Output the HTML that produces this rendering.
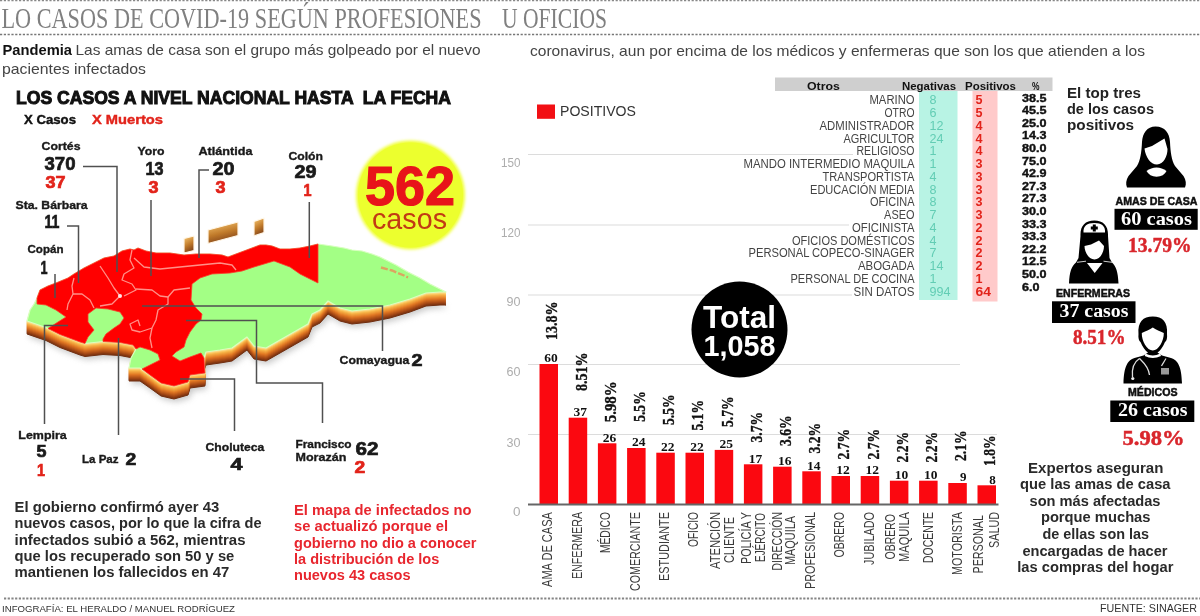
<!DOCTYPE html>
<html lang="es"><head><meta charset="utf-8"><title>Casos de COVID-19 según profesiones u oficios</title>
<style>
html,body{margin:0;padding:0;background:#fff;}
body{width:1200px;height:616px;overflow:hidden;font-family:"Liberation Sans",sans-serif;}
svg{display:block;}
</style></head><body>
<svg width="1200" height="616" viewBox="0 0 1200 616">
<defs>
<filter id="blur4" x="-10%" y="-10%" width="120%" height="130%"><feGaussianBlur stdDeviation="3"/></filter>
<filter id="blur2" x="-10%" y="-10%" width="120%" height="120%"><feGaussianBlur stdDeviation="1.5"/></filter>
<linearGradient id="isl" x1="0" y1="0" x2="0.35" y2="1"><stop offset="0" stop-color="#ffeec2"/><stop offset="0.22" stop-color="#e6ae5a"/><stop offset="0.6" stop-color="#c07a2a"/><stop offset="1" stop-color="#85461a"/></linearGradient>
</defs>
<rect width="1200" height="616" fill="#fff"/>
<text x="1.5" y="27.5" font-family='"Liberation Serif",serif' font-size="28.5" fill="#808080" textLength="480" lengthAdjust="spacingAndGlyphs">LO CASOS DE COVID-19 SEGÚN PROFESIONES</text>
<text x="502" y="27.5" font-family='"Liberation Serif",serif' font-size="28.5" fill="#808080" textLength="105" lengthAdjust="spacingAndGlyphs">U OFICIOS</text>
<line x1="0" y1="34.5" x2="1200" y2="34.5" stroke="#777" stroke-width="1.6" stroke-dasharray="2.2 1.6"/>
<line x1="0" y1="0.6" x2="1200" y2="0.6" stroke="#888" stroke-width="1.4" stroke-dasharray="2.2 1.6"/>
<line x1="4" y1="598.6" x2="1200" y2="598.6" stroke="#858585" stroke-width="2" stroke-dasharray="2.2 1.5"/>
<text x="2.5" y="55.3" font-family='"Liberation Sans",sans-serif' font-size="15" font-weight="bold" fill="#111" textLength="69.5" lengthAdjust="spacingAndGlyphs">Pandemia</text>
<text x="75.5" y="55.3" font-family='"Liberation Sans",sans-serif' font-size="15" fill="#444" textLength="405" lengthAdjust="spacingAndGlyphs">Las amas de casa son el grupo más golpeado por el nuevo</text>
<text x="2" y="73.8" font-family='"Liberation Sans",sans-serif' font-size="15" fill="#444" textLength="144" lengthAdjust="spacingAndGlyphs">pacientes infectados</text>
<text x="530" y="55.5" font-family='"Liberation Sans",sans-serif' font-size="15" fill="#444" textLength="615" lengthAdjust="spacingAndGlyphs">coronavirus, aun por encima de los médicos y enfermeras que son los que atienden a los</text>
<text x="16" y="104" font-family='"Liberation Sans",sans-serif' font-size="18" font-weight="bold" fill="#111" textLength="435" lengthAdjust="spacingAndGlyphs" stroke="#111" stroke-width="1" xml:space="preserve">LOS CASOS A NIVEL NACIONAL HASTA  LA FECHA</text>
<text x="24" y="124" font-family='"Liberation Sans",sans-serif' font-size="12.5" font-weight="bold" fill="#111" textLength="52" lengthAdjust="spacingAndGlyphs" stroke="#111" stroke-width="0.4">X Casos</text>
<text x="92" y="124" font-family='"Liberation Sans",sans-serif' font-size="12.5" font-weight="bold" fill="#e2231a" textLength="71" lengthAdjust="spacingAndGlyphs" stroke="#e2231a" stroke-width="0.4">X Muertos</text>
<text x="2" y="611.5" font-family='"Liberation Sans",sans-serif' font-size="9.5" fill="#333" textLength="233" lengthAdjust="spacingAndGlyphs">INFOGRAFÍA: EL HERALDO / MANUEL RODRÍGUEZ</text>
<text x="1100" y="611.5" font-family='"Liberation Sans",sans-serif' font-size="11" fill="#333" textLength="97" lengthAdjust="spacingAndGlyphs">FUENTE: SINAGER</text>
<line x1="528" y1="154.5" x2="853" y2="154.5" stroke="#dcdcdc" stroke-width="1.2"/>
<line x1="528" y1="225" x2="849" y2="225" stroke="#dcdcdc" stroke-width="1.2"/>
<line x1="528" y1="295" x2="852" y2="295" stroke="#dcdcdc" stroke-width="1.2"/>
<line x1="528" y1="364.5" x2="960" y2="364.5" stroke="#dcdcdc" stroke-width="1.2"/>
<line x1="528" y1="434.5" x2="997" y2="434.5" stroke="#dcdcdc" stroke-width="1.2"/>
<text x="520.5" y="167.0" font-family='"Liberation Sans",sans-serif' font-size="13" fill="#adadad" textLength="19.5" lengthAdjust="spacingAndGlyphs" text-anchor="end">150</text>
<text x="520.5" y="237.0" font-family='"Liberation Sans",sans-serif' font-size="13" fill="#adadad" textLength="19.5" lengthAdjust="spacingAndGlyphs" text-anchor="end">120</text>
<text x="520.5" y="306.0" font-family='"Liberation Sans",sans-serif' font-size="13" fill="#adadad" textLength="14" lengthAdjust="spacingAndGlyphs" text-anchor="end">90</text>
<text x="520.5" y="376.0" font-family='"Liberation Sans",sans-serif' font-size="13" fill="#adadad" textLength="14" lengthAdjust="spacingAndGlyphs" text-anchor="end">60</text>
<text x="520.5" y="446.5" font-family='"Liberation Sans",sans-serif' font-size="13" fill="#adadad" textLength="14" lengthAdjust="spacingAndGlyphs" text-anchor="end">30</text>
<text x="520.5" y="515.5" font-family='"Liberation Sans",sans-serif' font-size="13" fill="#adadad" textLength="7.5" lengthAdjust="spacingAndGlyphs" text-anchor="end">0</text>
<rect x="537" y="104.5" width="18" height="14.3" fill="#f20f14"/>
<text x="560" y="116.3" font-family='"Liberation Sans",sans-serif' font-size="15" fill="#333" textLength="76" lengthAdjust="spacingAndGlyphs">POSITIVOS</text>
<rect x="539.5" y="364.0" width="18.5" height="140.0" fill="#fb0810"/>
<text x="557.8" y="362.2" font-family='"Liberation Serif",serif' font-size="13" font-weight="bold" fill="#111" textLength="13.5" lengthAdjust="spacingAndGlyphs" text-anchor="end">60</text>
<text transform="translate(557.4,340) rotate(-90)" font-family='"Liberation Serif",serif' font-size="16.5" font-weight="bold" fill="#111" stroke="#111" stroke-width="0.35" textLength="38.5" lengthAdjust="spacingAndGlyphs">13.8%</text>
<rect x="568.7" y="417.7" width="18.5" height="86.3" fill="#fb0810"/>
<text x="587.0" y="415.9" font-family='"Liberation Serif",serif' font-size="13" font-weight="bold" fill="#111" textLength="13.5" lengthAdjust="spacingAndGlyphs" text-anchor="end">37</text>
<text transform="translate(586.6,391) rotate(-90)" font-family='"Liberation Serif",serif' font-size="16.5" font-weight="bold" fill="#111" stroke="#111" stroke-width="0.35" textLength="38.5" lengthAdjust="spacingAndGlyphs">8.51%</text>
<rect x="597.9" y="443.3" width="18.5" height="60.7" fill="#fb0810"/>
<text x="616.2" y="441.5" font-family='"Liberation Serif",serif' font-size="13" font-weight="bold" fill="#111" textLength="13.5" lengthAdjust="spacingAndGlyphs" text-anchor="end">26</text>
<text transform="translate(615.8,422.3) rotate(-90)" font-family='"Liberation Serif",serif' font-size="16.5" font-weight="bold" fill="#111" stroke="#111" stroke-width="0.35" textLength="41" lengthAdjust="spacingAndGlyphs">5.98%</text>
<rect x="627.1" y="448.0" width="18.5" height="56.0" fill="#fb0810"/>
<text x="645.4" y="446.2" font-family='"Liberation Serif",serif' font-size="13" font-weight="bold" fill="#111" textLength="13.5" lengthAdjust="spacingAndGlyphs" text-anchor="end">24</text>
<text transform="translate(645.0,421.8) rotate(-90)" font-family='"Liberation Serif",serif' font-size="16.5" font-weight="bold" fill="#111" stroke="#111" stroke-width="0.35" textLength="30.5" lengthAdjust="spacingAndGlyphs">5.5%</text>
<rect x="656.3" y="452.7" width="18.5" height="51.3" fill="#fb0810"/>
<text x="674.6" y="450.9" font-family='"Liberation Serif",serif' font-size="13" font-weight="bold" fill="#111" textLength="13.5" lengthAdjust="spacingAndGlyphs" text-anchor="end">22</text>
<text transform="translate(674.1,425) rotate(-90)" font-family='"Liberation Serif",serif' font-size="16.5" font-weight="bold" fill="#111" stroke="#111" stroke-width="0.35" textLength="30.5" lengthAdjust="spacingAndGlyphs">5.5%</text>
<rect x="685.5" y="452.7" width="18.5" height="51.3" fill="#fb0810"/>
<text x="703.8" y="450.9" font-family='"Liberation Serif",serif' font-size="13" font-weight="bold" fill="#111" textLength="13.5" lengthAdjust="spacingAndGlyphs" text-anchor="end">22</text>
<text transform="translate(703.4,430.5) rotate(-90)" font-family='"Liberation Serif",serif' font-size="16.5" font-weight="bold" fill="#111" stroke="#111" stroke-width="0.35" textLength="30.5" lengthAdjust="spacingAndGlyphs">5.1%</text>
<rect x="714.7" y="449.9" width="18.5" height="54.1" fill="#fb0810"/>
<text x="733.0" y="448.1" font-family='"Liberation Serif",serif' font-size="13" font-weight="bold" fill="#111" textLength="13.5" lengthAdjust="spacingAndGlyphs" text-anchor="end">25</text>
<text transform="translate(732.6,427) rotate(-90)" font-family='"Liberation Serif",serif' font-size="16.5" font-weight="bold" fill="#111" stroke="#111" stroke-width="0.35" textLength="30.5" lengthAdjust="spacingAndGlyphs">5.7%</text>
<rect x="743.9" y="464.3" width="18.5" height="39.7" fill="#fb0810"/>
<text x="762.2" y="462.5" font-family='"Liberation Serif",serif' font-size="13" font-weight="bold" fill="#111" textLength="13.5" lengthAdjust="spacingAndGlyphs" text-anchor="end">17</text>
<text transform="translate(761.8,442.5) rotate(-90)" font-family='"Liberation Serif",serif' font-size="16.5" font-weight="bold" fill="#111" stroke="#111" stroke-width="0.35" textLength="30.5" lengthAdjust="spacingAndGlyphs">3.7%</text>
<rect x="773.1" y="466.7" width="18.5" height="37.3" fill="#fb0810"/>
<text x="791.4" y="464.9" font-family='"Liberation Serif",serif' font-size="13" font-weight="bold" fill="#111" textLength="13.5" lengthAdjust="spacingAndGlyphs" text-anchor="end">16</text>
<text transform="translate(791.0,446) rotate(-90)" font-family='"Liberation Serif",serif' font-size="16.5" font-weight="bold" fill="#111" stroke="#111" stroke-width="0.35" textLength="30.5" lengthAdjust="spacingAndGlyphs">3.6%</text>
<rect x="802.3" y="471.3" width="18.5" height="32.7" fill="#fb0810"/>
<text x="820.6" y="469.5" font-family='"Liberation Serif",serif' font-size="13" font-weight="bold" fill="#111" textLength="13.5" lengthAdjust="spacingAndGlyphs" text-anchor="end">14</text>
<text transform="translate(820.1,453.5) rotate(-90)" font-family='"Liberation Serif",serif' font-size="16.5" font-weight="bold" fill="#111" stroke="#111" stroke-width="0.35" textLength="30.5" lengthAdjust="spacingAndGlyphs">3.2%</text>
<rect x="831.5" y="476.0" width="18.5" height="28.0" fill="#fb0810"/>
<text x="849.8" y="474.2" font-family='"Liberation Serif",serif' font-size="13" font-weight="bold" fill="#111" textLength="13.5" lengthAdjust="spacingAndGlyphs" text-anchor="end">12</text>
<text transform="translate(849.4,459.5) rotate(-90)" font-family='"Liberation Serif",serif' font-size="16.5" font-weight="bold" fill="#111" stroke="#111" stroke-width="0.35" textLength="30.5" lengthAdjust="spacingAndGlyphs">2.7%</text>
<rect x="860.7" y="476.0" width="18.5" height="28.0" fill="#fb0810"/>
<text x="879.0" y="474.2" font-family='"Liberation Serif",serif' font-size="13" font-weight="bold" fill="#111" textLength="13.5" lengthAdjust="spacingAndGlyphs" text-anchor="end">12</text>
<text transform="translate(878.6,459.5) rotate(-90)" font-family='"Liberation Serif",serif' font-size="16.5" font-weight="bold" fill="#111" stroke="#111" stroke-width="0.35" textLength="30.5" lengthAdjust="spacingAndGlyphs">2.7%</text>
<rect x="889.9" y="480.7" width="18.5" height="23.3" fill="#fb0810"/>
<text x="908.2" y="478.9" font-family='"Liberation Serif",serif' font-size="13" font-weight="bold" fill="#111" textLength="13.5" lengthAdjust="spacingAndGlyphs" text-anchor="end">10</text>
<text transform="translate(907.8,462.5) rotate(-90)" font-family='"Liberation Serif",serif' font-size="16.5" font-weight="bold" fill="#111" stroke="#111" stroke-width="0.35" textLength="30.5" lengthAdjust="spacingAndGlyphs">2.2%</text>
<rect x="919.1" y="480.7" width="18.5" height="23.3" fill="#fb0810"/>
<text x="937.4" y="478.9" font-family='"Liberation Serif",serif' font-size="13" font-weight="bold" fill="#111" textLength="13.5" lengthAdjust="spacingAndGlyphs" text-anchor="end">10</text>
<text transform="translate(936.9,462.5) rotate(-90)" font-family='"Liberation Serif",serif' font-size="16.5" font-weight="bold" fill="#111" stroke="#111" stroke-width="0.35" textLength="30.5" lengthAdjust="spacingAndGlyphs">2.2%</text>
<rect x="948.3" y="483.0" width="18.5" height="21.0" fill="#fb0810"/>
<text x="966.6" y="481.2" font-family='"Liberation Serif",serif' font-size="13" font-weight="bold" fill="#111" textLength="6.5" lengthAdjust="spacingAndGlyphs" text-anchor="end">9</text>
<text transform="translate(966.1,461) rotate(-90)" font-family='"Liberation Serif",serif' font-size="16.5" font-weight="bold" fill="#111" stroke="#111" stroke-width="0.35" textLength="30.5" lengthAdjust="spacingAndGlyphs">2.1%</text>
<rect x="977.5" y="485.3" width="18.5" height="18.7" fill="#fb0810"/>
<text x="995.8" y="483.5" font-family='"Liberation Serif",serif' font-size="13" font-weight="bold" fill="#111" textLength="6.5" lengthAdjust="spacingAndGlyphs" text-anchor="end">8</text>
<text transform="translate(995.4,466) rotate(-90)" font-family='"Liberation Serif",serif' font-size="16.5" font-weight="bold" fill="#111" stroke="#111" stroke-width="0.35" textLength="30.5" lengthAdjust="spacingAndGlyphs">1.8%</text>
<line x1="528" y1="504.5" x2="998.5" y2="504.5" stroke="#666" stroke-width="2"/>
<text transform="translate(552.3,512) rotate(-90)" text-anchor="end" font-family='"Liberation Sans",sans-serif' font-size="14" fill="#3a3a3a" textLength="75" lengthAdjust="spacingAndGlyphs">AMA DE CASA</text>
<text transform="translate(582,512) rotate(-90)" text-anchor="end" font-family='"Liberation Sans",sans-serif' font-size="14" fill="#3a3a3a" textLength="67" lengthAdjust="spacingAndGlyphs">ENFERMERA</text>
<text transform="translate(610,512) rotate(-90)" text-anchor="end" font-family='"Liberation Sans",sans-serif' font-size="14" fill="#3a3a3a" textLength="41" lengthAdjust="spacingAndGlyphs">MÉDICO</text>
<text transform="translate(640,512) rotate(-90)" text-anchor="end" font-family='"Liberation Sans",sans-serif' font-size="14" fill="#3a3a3a" textLength="79" lengthAdjust="spacingAndGlyphs">COMERCIANTE</text>
<text transform="translate(669,512) rotate(-90)" text-anchor="end" font-family='"Liberation Sans",sans-serif' font-size="14" fill="#3a3a3a" textLength="69" lengthAdjust="spacingAndGlyphs">ESTUDIANTE</text>
<text transform="translate(698,512) rotate(-90)" text-anchor="end" font-family='"Liberation Sans",sans-serif' font-size="14" fill="#3a3a3a" textLength="35" lengthAdjust="spacingAndGlyphs">OFICIO</text>
<text transform="translate(720,512) rotate(-90)" text-anchor="end" font-family='"Liberation Sans",sans-serif' font-size="14" fill="#3a3a3a" textLength="57" lengthAdjust="spacingAndGlyphs">ATENCIÓN</text>
<text transform="translate(734,517) rotate(-90)" text-anchor="end" font-family='"Liberation Sans",sans-serif' font-size="14" fill="#3a3a3a" textLength="46" lengthAdjust="spacingAndGlyphs">CLIENTE</text>
<text transform="translate(751,512) rotate(-90)" text-anchor="end" font-family='"Liberation Sans",sans-serif' font-size="14" fill="#3a3a3a" textLength="52" lengthAdjust="spacingAndGlyphs">POLICÍA Y</text>
<text transform="translate(765,513) rotate(-90)" text-anchor="end" font-family='"Liberation Sans",sans-serif' font-size="14" fill="#3a3a3a" textLength="49" lengthAdjust="spacingAndGlyphs">EJÉRCITO</text>
<text transform="translate(781.7,512) rotate(-90)" text-anchor="end" font-family='"Liberation Sans",sans-serif' font-size="14" fill="#3a3a3a" textLength="58.5" lengthAdjust="spacingAndGlyphs">DIRECCIÓN</text>
<text transform="translate(795,516) rotate(-90)" text-anchor="end" font-family='"Liberation Sans",sans-serif' font-size="14" fill="#3a3a3a" textLength="49" lengthAdjust="spacingAndGlyphs">MAQUILA</text>
<text transform="translate(815,512) rotate(-90)" text-anchor="end" font-family='"Liberation Sans",sans-serif' font-size="14" fill="#3a3a3a" textLength="77" lengthAdjust="spacingAndGlyphs">PROFESIONAL</text>
<text transform="translate(844,512) rotate(-90)" text-anchor="end" font-family='"Liberation Sans",sans-serif' font-size="14" fill="#3a3a3a" textLength="45.5" lengthAdjust="spacingAndGlyphs">OBRERO</text>
<text transform="translate(874,512) rotate(-90)" text-anchor="end" font-family='"Liberation Sans",sans-serif' font-size="14" fill="#3a3a3a" textLength="53" lengthAdjust="spacingAndGlyphs">JUBILADO</text>
<text transform="translate(895.4,514) rotate(-90)" text-anchor="end" font-family='"Liberation Sans",sans-serif' font-size="14" fill="#3a3a3a" textLength="45.5" lengthAdjust="spacingAndGlyphs">OBRERO</text>
<text transform="translate(909,512) rotate(-90)" text-anchor="end" font-family='"Liberation Sans",sans-serif' font-size="14" fill="#3a3a3a" textLength="50" lengthAdjust="spacingAndGlyphs">MAQUILA</text>
<text transform="translate(933,512) rotate(-90)" text-anchor="end" font-family='"Liberation Sans",sans-serif' font-size="14" fill="#3a3a3a" textLength="51" lengthAdjust="spacingAndGlyphs">DOCENTE</text>
<text transform="translate(962,512) rotate(-90)" text-anchor="end" font-family='"Liberation Sans",sans-serif' font-size="14" fill="#3a3a3a" textLength="63" lengthAdjust="spacingAndGlyphs">MOTORISTA</text>
<text transform="translate(983,515) rotate(-90)" text-anchor="end" font-family='"Liberation Sans",sans-serif' font-size="14" fill="#3a3a3a" textLength="58.5" lengthAdjust="spacingAndGlyphs">PERSONAL</text>
<text transform="translate(999,512) rotate(-90)" text-anchor="end" font-family='"Liberation Sans",sans-serif' font-size="14" fill="#3a3a3a" textLength="36" lengthAdjust="spacingAndGlyphs">SALUD</text>
<circle cx="739.5" cy="329.5" r="48" fill="#000"/>
<text x="739.5" y="327.5" font-family='"Liberation Sans",sans-serif' font-size="31" font-weight="bold" fill="#fff" textLength="73" lengthAdjust="spacingAndGlyphs" text-anchor="middle">Total</text>
<text x="739.5" y="356" font-family='"Liberation Sans",sans-serif' font-size="29" font-weight="bold" fill="#fff" textLength="72" lengthAdjust="spacingAndGlyphs" text-anchor="middle">1,058</text>
<rect x="775" y="77.5" width="277.5" height="13.5" fill="#cfcfcf"/>
<rect x="919" y="91" width="38.5" height="209" fill="#b8f3e4"/>
<rect x="972.5" y="91" width="25" height="210.5" fill="#ffcaca"/>
<text x="807" y="89.5" font-family='"Liberation Sans",sans-serif' font-size="10.5" font-weight="bold" fill="#111" textLength="33" lengthAdjust="spacingAndGlyphs">Otros</text>
<text x="902" y="89.5" font-family='"Liberation Sans",sans-serif' font-size="10.5" font-weight="bold" fill="#111" textLength="54" lengthAdjust="spacingAndGlyphs">Negativas</text>
<text x="965" y="89.5" font-family='"Liberation Sans",sans-serif' font-size="10.5" font-weight="bold" fill="#111" textLength="51" lengthAdjust="spacingAndGlyphs">Positivos</text>
<text x="1032" y="89.5" font-family='"Liberation Sans",sans-serif' font-size="10" font-weight="bold" fill="#111" textLength="7.5" lengthAdjust="spacingAndGlyphs">%</text>
<text x="914.5" y="104.4" font-family='"Liberation Sans",sans-serif' font-size="12" fill="#444" textLength="45" lengthAdjust="spacingAndGlyphs" text-anchor="end">MARINO</text>
<text x="929.5" y="104.4" font-family='"Liberation Sans",sans-serif' font-size="12" fill="#62cdb4" textLength="7" lengthAdjust="spacingAndGlyphs">8</text>
<text x="975.5" y="104.4" font-family='"Liberation Sans",sans-serif' font-size="12" font-weight="bold" fill="#e2231a" textLength="7" lengthAdjust="spacingAndGlyphs">5</text>
<text x="1022" y="101.5" font-family='"Liberation Sans",sans-serif' font-size="11" font-weight="bold" fill="#111" textLength="24.5" lengthAdjust="spacingAndGlyphs" stroke="#111" stroke-width="0.4">38.5</text>
<text x="914.5" y="117.2" font-family='"Liberation Sans",sans-serif' font-size="12" fill="#444" textLength="30" lengthAdjust="spacingAndGlyphs" text-anchor="end">OTRO</text>
<text x="929.5" y="117.2" font-family='"Liberation Sans",sans-serif' font-size="12" fill="#62cdb4" textLength="7" lengthAdjust="spacingAndGlyphs">6</text>
<text x="975.5" y="117.2" font-family='"Liberation Sans",sans-serif' font-size="12" font-weight="bold" fill="#e2231a" textLength="7" lengthAdjust="spacingAndGlyphs">5</text>
<text x="1022" y="114.1" font-family='"Liberation Sans",sans-serif' font-size="11" font-weight="bold" fill="#111" textLength="24.5" lengthAdjust="spacingAndGlyphs" stroke="#111" stroke-width="0.4">45.5</text>
<text x="914.5" y="129.9" font-family='"Liberation Sans",sans-serif' font-size="12" fill="#444" textLength="95" lengthAdjust="spacingAndGlyphs" text-anchor="end">ADMINISTRADOR</text>
<text x="929.5" y="129.9" font-family='"Liberation Sans",sans-serif' font-size="12" fill="#62cdb4" textLength="14" lengthAdjust="spacingAndGlyphs">12</text>
<text x="975.5" y="129.9" font-family='"Liberation Sans",sans-serif' font-size="12" font-weight="bold" fill="#e2231a" textLength="7" lengthAdjust="spacingAndGlyphs">4</text>
<text x="1022" y="126.7" font-family='"Liberation Sans",sans-serif' font-size="11" font-weight="bold" fill="#111" textLength="24.5" lengthAdjust="spacingAndGlyphs" stroke="#111" stroke-width="0.4">25.0</text>
<text x="914.5" y="142.7" font-family='"Liberation Sans",sans-serif' font-size="12" fill="#444" textLength="71" lengthAdjust="spacingAndGlyphs" text-anchor="end">AGRICULTOR</text>
<text x="929.5" y="142.7" font-family='"Liberation Sans",sans-serif' font-size="12" fill="#62cdb4" textLength="14" lengthAdjust="spacingAndGlyphs">24</text>
<text x="975.5" y="142.7" font-family='"Liberation Sans",sans-serif' font-size="12" font-weight="bold" fill="#e2231a" textLength="7" lengthAdjust="spacingAndGlyphs">4</text>
<text x="1022" y="139.3" font-family='"Liberation Sans",sans-serif' font-size="11" font-weight="bold" fill="#111" textLength="24.5" lengthAdjust="spacingAndGlyphs" stroke="#111" stroke-width="0.4">14.3</text>
<text x="914.5" y="155.4" font-family='"Liberation Sans",sans-serif' font-size="12" fill="#444" textLength="58" lengthAdjust="spacingAndGlyphs" text-anchor="end">RELIGIOSO</text>
<text x="929.5" y="155.4" font-family='"Liberation Sans",sans-serif' font-size="12" fill="#62cdb4" textLength="7" lengthAdjust="spacingAndGlyphs">1</text>
<text x="975.5" y="155.4" font-family='"Liberation Sans",sans-serif' font-size="12" font-weight="bold" fill="#e2231a" textLength="7" lengthAdjust="spacingAndGlyphs">4</text>
<text x="1022" y="151.9" font-family='"Liberation Sans",sans-serif' font-size="11" font-weight="bold" fill="#111" textLength="24.5" lengthAdjust="spacingAndGlyphs" stroke="#111" stroke-width="0.4">80.0</text>
<text x="914.5" y="168.2" font-family='"Liberation Sans",sans-serif' font-size="12" fill="#444" textLength="171" lengthAdjust="spacingAndGlyphs" text-anchor="end">MANDO INTERMEDIO MAQUILA</text>
<text x="929.5" y="168.2" font-family='"Liberation Sans",sans-serif' font-size="12" fill="#62cdb4" textLength="7" lengthAdjust="spacingAndGlyphs">1</text>
<text x="975.5" y="168.2" font-family='"Liberation Sans",sans-serif' font-size="12" font-weight="bold" fill="#e2231a" textLength="7" lengthAdjust="spacingAndGlyphs">3</text>
<text x="1022" y="164.5" font-family='"Liberation Sans",sans-serif' font-size="11" font-weight="bold" fill="#111" textLength="24.5" lengthAdjust="spacingAndGlyphs" stroke="#111" stroke-width="0.4">75.0</text>
<text x="914.5" y="180.9" font-family='"Liberation Sans",sans-serif' font-size="12" fill="#444" textLength="92" lengthAdjust="spacingAndGlyphs" text-anchor="end">TRANSPORTISTA</text>
<text x="929.5" y="180.9" font-family='"Liberation Sans",sans-serif' font-size="12" fill="#62cdb4" textLength="7" lengthAdjust="spacingAndGlyphs">4</text>
<text x="975.5" y="180.9" font-family='"Liberation Sans",sans-serif' font-size="12" font-weight="bold" fill="#e2231a" textLength="7" lengthAdjust="spacingAndGlyphs">3</text>
<text x="1022" y="177.1" font-family='"Liberation Sans",sans-serif' font-size="11" font-weight="bold" fill="#111" textLength="24.5" lengthAdjust="spacingAndGlyphs" stroke="#111" stroke-width="0.4">42.9</text>
<text x="914.5" y="193.7" font-family='"Liberation Sans",sans-serif' font-size="12" fill="#444" textLength="104.5" lengthAdjust="spacingAndGlyphs" text-anchor="end">EDUCACIÓN MEDIA</text>
<text x="929.5" y="193.7" font-family='"Liberation Sans",sans-serif' font-size="12" fill="#62cdb4" textLength="7" lengthAdjust="spacingAndGlyphs">8</text>
<text x="975.5" y="193.7" font-family='"Liberation Sans",sans-serif' font-size="12" font-weight="bold" fill="#e2231a" textLength="7" lengthAdjust="spacingAndGlyphs">3</text>
<text x="1022" y="189.7" font-family='"Liberation Sans",sans-serif' font-size="11" font-weight="bold" fill="#111" textLength="24.5" lengthAdjust="spacingAndGlyphs" stroke="#111" stroke-width="0.4">27.3</text>
<text x="914.5" y="206.4" font-family='"Liberation Sans",sans-serif' font-size="12" fill="#444" textLength="44.5" lengthAdjust="spacingAndGlyphs" text-anchor="end">OFICINA</text>
<text x="929.5" y="206.4" font-family='"Liberation Sans",sans-serif' font-size="12" fill="#62cdb4" textLength="7" lengthAdjust="spacingAndGlyphs">8</text>
<text x="975.5" y="206.4" font-family='"Liberation Sans",sans-serif' font-size="12" font-weight="bold" fill="#e2231a" textLength="7" lengthAdjust="spacingAndGlyphs">3</text>
<text x="1022" y="202.3" font-family='"Liberation Sans",sans-serif' font-size="11" font-weight="bold" fill="#111" textLength="24.5" lengthAdjust="spacingAndGlyphs" stroke="#111" stroke-width="0.4">27.3</text>
<text x="914.5" y="219.2" font-family='"Liberation Sans",sans-serif' font-size="12" fill="#444" textLength="30.4" lengthAdjust="spacingAndGlyphs" text-anchor="end">ASEO</text>
<text x="929.5" y="219.2" font-family='"Liberation Sans",sans-serif' font-size="12" fill="#62cdb4" textLength="7" lengthAdjust="spacingAndGlyphs">7</text>
<text x="975.5" y="219.2" font-family='"Liberation Sans",sans-serif' font-size="12" font-weight="bold" fill="#e2231a" textLength="7" lengthAdjust="spacingAndGlyphs">3</text>
<text x="1022" y="214.9" font-family='"Liberation Sans",sans-serif' font-size="11" font-weight="bold" fill="#111" textLength="24.5" lengthAdjust="spacingAndGlyphs" stroke="#111" stroke-width="0.4">30.0</text>
<text x="914.5" y="231.9" font-family='"Liberation Sans",sans-serif' font-size="12" fill="#444" textLength="62.5" lengthAdjust="spacingAndGlyphs" text-anchor="end">OFICINISTA</text>
<text x="929.5" y="231.9" font-family='"Liberation Sans",sans-serif' font-size="12" fill="#62cdb4" textLength="7" lengthAdjust="spacingAndGlyphs">4</text>
<text x="975.5" y="231.9" font-family='"Liberation Sans",sans-serif' font-size="12" font-weight="bold" fill="#e2231a" textLength="7" lengthAdjust="spacingAndGlyphs">2</text>
<text x="1022" y="227.5" font-family='"Liberation Sans",sans-serif' font-size="11" font-weight="bold" fill="#111" textLength="24.5" lengthAdjust="spacingAndGlyphs" stroke="#111" stroke-width="0.4">33.3</text>
<text x="914.5" y="244.7" font-family='"Liberation Sans",sans-serif' font-size="12" fill="#444" textLength="122.5" lengthAdjust="spacingAndGlyphs" text-anchor="end">OFICIOS DOMÉSTICOS</text>
<text x="929.5" y="244.7" font-family='"Liberation Sans",sans-serif' font-size="12" fill="#62cdb4" textLength="7" lengthAdjust="spacingAndGlyphs">4</text>
<text x="975.5" y="244.7" font-family='"Liberation Sans",sans-serif' font-size="12" font-weight="bold" fill="#e2231a" textLength="7" lengthAdjust="spacingAndGlyphs">2</text>
<text x="1022" y="240.1" font-family='"Liberation Sans",sans-serif' font-size="11" font-weight="bold" fill="#111" textLength="24.5" lengthAdjust="spacingAndGlyphs" stroke="#111" stroke-width="0.4">33.3</text>
<text x="914.5" y="257.4" font-family='"Liberation Sans",sans-serif' font-size="12" fill="#444" textLength="166" lengthAdjust="spacingAndGlyphs" text-anchor="end">PERSONAL COPECO-SINAGER</text>
<text x="929.5" y="257.4" font-family='"Liberation Sans",sans-serif' font-size="12" fill="#62cdb4" textLength="7" lengthAdjust="spacingAndGlyphs">7</text>
<text x="975.5" y="257.4" font-family='"Liberation Sans",sans-serif' font-size="12" font-weight="bold" fill="#e2231a" textLength="7" lengthAdjust="spacingAndGlyphs">2</text>
<text x="1022" y="252.7" font-family='"Liberation Sans",sans-serif' font-size="11" font-weight="bold" fill="#111" textLength="24.5" lengthAdjust="spacingAndGlyphs" stroke="#111" stroke-width="0.4">22.2</text>
<text x="914.5" y="270.1" font-family='"Liberation Sans",sans-serif' font-size="12" fill="#444" textLength="56.5" lengthAdjust="spacingAndGlyphs" text-anchor="end">ABOGADA</text>
<text x="929.5" y="270.1" font-family='"Liberation Sans",sans-serif' font-size="12" fill="#62cdb4" textLength="14" lengthAdjust="spacingAndGlyphs">14</text>
<text x="975.5" y="270.1" font-family='"Liberation Sans",sans-serif' font-size="12" font-weight="bold" fill="#e2231a" textLength="7" lengthAdjust="spacingAndGlyphs">2</text>
<text x="1022" y="265.3" font-family='"Liberation Sans",sans-serif' font-size="11" font-weight="bold" fill="#111" textLength="24.5" lengthAdjust="spacingAndGlyphs" stroke="#111" stroke-width="0.4">12.5</text>
<text x="914.5" y="282.9" font-family='"Liberation Sans",sans-serif' font-size="12" fill="#444" textLength="124" lengthAdjust="spacingAndGlyphs" text-anchor="end">PERSONAL DE COCINA</text>
<text x="929.5" y="282.9" font-family='"Liberation Sans",sans-serif' font-size="12" fill="#62cdb4" textLength="7" lengthAdjust="spacingAndGlyphs">1</text>
<text x="975.5" y="282.9" font-family='"Liberation Sans",sans-serif' font-size="12" font-weight="bold" fill="#e2231a" textLength="7" lengthAdjust="spacingAndGlyphs">1</text>
<text x="1022" y="277.9" font-family='"Liberation Sans",sans-serif' font-size="11" font-weight="bold" fill="#111" textLength="24.5" lengthAdjust="spacingAndGlyphs" stroke="#111" stroke-width="0.4">50.0</text>
<text x="914.5" y="295.6" font-family='"Liberation Sans",sans-serif' font-size="12" fill="#444" textLength="61" lengthAdjust="spacingAndGlyphs" text-anchor="end">SIN DATOS</text>
<text x="929.5" y="295.6" font-family='"Liberation Sans",sans-serif' font-size="12" fill="#62cdb4" textLength="21" lengthAdjust="spacingAndGlyphs">994</text>
<text x="975.5" y="295.6" font-family='"Liberation Sans",sans-serif' font-size="12" font-weight="bold" fill="#e2231a" textLength="15.5" lengthAdjust="spacingAndGlyphs">64</text>
<text x="1022" y="290.5" font-family='"Liberation Sans",sans-serif' font-size="11" font-weight="bold" fill="#111" textLength="17.5" lengthAdjust="spacingAndGlyphs" stroke="#111" stroke-width="0.4">6.0</text>
<polygon points="27,335 30,324 34,318 37,312 40,304 48,300 56,297 68,292 74,288 84,282 96,276 104,272 114,270 122,265 130,263 134,264 138,262 146,265 156,267 170,267 184,269 196,268 210,268 222,269 228,271 236,268 244,265 252,262 260,259 266,259 272,260 280,263 290,263 300,262 310,260 318,258 332,260 344,262 352,264 362,265 372,268 380,271 386,274 396,279 408,286 420,292 430,298 440,303 446,306 440,306 426,307 410,313 390,319 370,323 352,325 340,322 328,315 320,324 312,328 308,338 294,346 280,354 266,362 254,360 247,351 232,362 220,364 206,366 204,372 205,387 190,389 188,396 174,400 161,397 150,389 140,382 129,382 131,372 136,363 133,359 120,356.5 103,355.5 85,357.5 80,356 60,348.5 46,341.5" fill="#999" opacity="0.55" filter="url(#blur4)" transform="translate(2,2)"/>
<polygon points="27,334 30,323 34,317 37,311 40,303 48,299 56,296 68,291 74,287 84,281 96,275 104,271 114,269 122,264 130,262 134,263 138,261 146,264 156,266 170,266 184,268 196,267 210,267 222,268 228,270 236,267 244,264 252,261 260,258 266,258 272,259 280,262 290,262 300,261 310,259 318,257 332,259 344,261 352,263 362,264 372,267 380,270 386,273 396,278 408,285 420,291 430,297 440,302 446,305 440,305 426,306 410,312 390,318 370,322 352,324 340,321 328,314 320,323 312,327 308,337 294,345 280,353 266,361 254,359 247,350 232,361 220,363 206,365 204,371 205,386 190,388 188,395 174,399 161,396 150,388 140,381 129,381 131,371 136,362 133,358 120,355.5 103,354.5 85,356.5 80,355 60,347.5 46,340.5" fill="#702e10" stroke="#702e10" stroke-width="1" stroke-linejoin="round"/>
<polygon points="27,333 30,322 34,316 37,310 40,302 48,298 56,295 68,290 74,286 84,280 96,274 104,270 114,268 122,263 130,261 134,262 138,260 146,263 156,265 170,265 184,267 196,266 210,266 222,267 228,269 236,266 244,263 252,260 260,257 266,257 272,258 280,261 290,261 300,260 310,258 318,256 332,258 344,260 352,262 362,263 372,266 380,269 386,272 396,277 408,284 420,290 430,296 440,301 446,304 440,304 426,305 410,311 390,317 370,321 352,323 340,320 328,313 320,322 312,326 308,336 294,344 280,352 266,360 254,358 247,349 232,360 220,362 206,364 204,370 205,385 190,387 188,394 174,398 161,395 150,387 140,380 129,380 131,370 136,361 133,357 120,354.5 103,353.5 85,355.5 80,354 60,346.5 46,339.5" fill="#843812" stroke="#843812" stroke-width="1" stroke-linejoin="round"/>
<polygon points="27,332 30,321 34,315 37,309 40,301 48,297 56,294 68,289 74,285 84,279 96,273 104,269 114,267 122,262 130,260 134,261 138,259 146,262 156,264 170,264 184,266 196,265 210,265 222,266 228,268 236,265 244,262 252,259 260,256 266,256 272,257 280,260 290,260 300,259 310,257 318,255 332,257 344,259 352,261 362,262 372,265 380,268 386,271 396,276 408,283 420,289 430,295 440,300 446,303 440,303 426,304 410,310 390,316 370,320 352,322 340,319 328,312 320,321 312,325 308,335 294,343 280,351 266,359 254,357 247,348 232,359 220,361 206,363 204,369 205,384 190,386 188,393 174,397 161,394 150,386 140,379 129,379 131,369 136,360 133,356 120,353.5 103,352.5 85,354.5 80,353 60,345.5 46,338.5" fill="#984214" stroke="#984214" stroke-width="1" stroke-linejoin="round"/>
<polygon points="27,331 30,320 34,314 37,308 40,300 48,296 56,293 68,288 74,284 84,278 96,272 104,268 114,266 122,261 130,259 134,260 138,258 146,261 156,263 170,263 184,265 196,264 210,264 222,265 228,267 236,264 244,261 252,258 260,255 266,255 272,256 280,259 290,259 300,258 310,256 318,254 332,256 344,258 352,260 362,261 372,264 380,267 386,270 396,275 408,282 420,288 430,294 440,299 446,302 440,302 426,303 410,309 390,315 370,319 352,321 340,318 328,311 320,320 312,324 308,334 294,342 280,350 266,358 254,356 247,347 232,358 220,360 206,362 204,368 205,383 190,385 188,392 174,396 161,393 150,385 140,378 129,378 131,368 136,359 133,355 120,352.5 103,351.5 85,353.5 80,352 60,344.5 46,337.5" fill="#ab4c17" stroke="#ab4c17" stroke-width="1" stroke-linejoin="round"/>
<polygon points="27,330 30,319 34,313 37,307 40,299 48,295 56,292 68,287 74,283 84,277 96,271 104,267 114,265 122,260 130,258 134,259 138,257 146,260 156,262 170,262 184,264 196,263 210,263 222,264 228,266 236,263 244,260 252,257 260,254 266,254 272,255 280,258 290,258 300,257 310,255 318,253 332,255 344,257 352,259 362,260 372,263 380,266 386,269 396,274 408,281 420,287 430,293 440,298 446,301 440,301 426,302 410,308 390,314 370,318 352,320 340,317 328,310 320,319 312,323 308,333 294,341 280,349 266,357 254,355 247,346 232,357 220,359 206,361 204,367 205,382 190,384 188,391 174,395 161,392 150,384 140,377 129,377 131,367 136,358 133,354 120,351.5 103,350.5 85,352.5 80,351 60,343.5 46,336.5" fill="#ba591a" stroke="#ba591a" stroke-width="1" stroke-linejoin="round"/>
<polygon points="27,329 30,318 34,312 37,306 40,298 48,294 56,291 68,286 74,282 84,276 96,270 104,266 114,264 122,259 130,257 134,258 138,256 146,259 156,261 170,261 184,263 196,262 210,262 222,263 228,265 236,262 244,259 252,256 260,253 266,253 272,254 280,257 290,257 300,256 310,254 318,252 332,254 344,256 352,258 362,259 372,262 380,265 386,268 396,273 408,280 420,286 430,292 440,297 446,300 440,300 426,301 410,307 390,313 370,317 352,319 340,316 328,309 320,318 312,322 308,332 294,340 280,348 266,356 254,354 247,345 232,356 220,358 206,360 204,366 205,381 190,383 188,390 174,394 161,391 150,383 140,376 129,376 131,366 136,357 133,353 120,350.5 103,349.5 85,351.5 80,350 60,342.5 46,335.5" fill="#ca651e" stroke="#ca651e" stroke-width="1" stroke-linejoin="round"/>
<polygon points="27,328 30,317 34,311 37,305 40,297 48,293 56,290 68,285 74,281 84,275 96,269 104,265 114,263 122,258 130,256 134,257 138,255 146,258 156,260 170,260 184,262 196,261 210,261 222,262 228,264 236,261 244,258 252,255 260,252 266,252 272,253 280,256 290,256 300,255 310,253 318,251 332,253 344,255 352,257 362,258 372,261 380,264 386,267 396,272 408,279 420,285 430,291 440,296 446,299 440,299 426,300 410,306 390,312 370,316 352,318 340,315 328,308 320,317 312,321 308,331 294,339 280,347 266,355 254,353 247,344 232,355 220,357 206,359 204,365 205,380 190,382 188,389 174,393 161,390 150,382 140,375 129,375 131,365 136,356 133,352 120,349.5 103,348.5 85,350.5 80,349 60,341.5 46,334.5" fill="#da7121" stroke="#da7121" stroke-width="1" stroke-linejoin="round"/>
<polygon points="27,327 30,316 34,310 37,304 40,296 48,292 56,289 68,284 74,280 84,274 96,268 104,264 114,262 122,257 130,255 134,256 138,254 146,257 156,259 170,259 184,261 196,260 210,260 222,261 228,263 236,260 244,257 252,254 260,251 266,251 272,252 280,255 290,255 300,254 310,252 318,250 332,252 344,254 352,256 362,257 372,260 380,263 386,266 396,271 408,278 420,284 430,290 440,295 446,298 440,298 426,299 410,305 390,311 370,315 352,317 340,314 328,307 320,316 312,320 308,330 294,338 280,346 266,354 254,352 247,343 232,354 220,356 206,358 204,364 205,379 190,381 188,388 174,392 161,389 150,381 140,374 129,374 131,364 136,355 133,351 120,348.5 103,347.5 85,349.5 80,348 60,340.5 46,333.5" fill="#e58028" stroke="#e58028" stroke-width="1" stroke-linejoin="round"/>
<polygon points="27,326 30,315 34,309 37,303 40,295 48,291 56,288 68,283 74,279 84,273 96,267 104,263 114,261 122,256 130,254 134,255 138,253 146,256 156,258 170,258 184,260 196,259 210,259 222,260 228,262 236,259 244,256 252,253 260,250 266,250 272,251 280,254 290,254 300,253 310,251 318,249 332,251 344,253 352,255 362,256 372,259 380,262 386,265 396,270 408,277 420,283 430,289 440,294 446,297 440,297 426,298 410,304 390,310 370,314 352,316 340,313 328,306 320,315 312,319 308,329 294,337 280,345 266,353 254,351 247,342 232,353 220,355 206,357 204,363 205,378 190,380 188,387 174,391 161,388 150,380 140,373 129,373 131,363 136,354 133,350 120,347.5 103,346.5 85,348.5 80,347 60,339.5 46,332.5" fill="#eb9132" stroke="#eb9132" stroke-width="1" stroke-linejoin="round"/>
<polygon points="27,325 30,314 34,308 37,302 40,294 48,290 56,287 68,282 74,278 84,272 96,266 104,262 114,260 122,255 130,253 134,254 138,252 146,255 156,257 170,257 184,259 196,258 210,258 222,259 228,261 236,258 244,255 252,252 260,249 266,249 272,250 280,253 290,253 300,252 310,250 318,248 332,250 344,252 352,254 362,255 372,258 380,261 386,264 396,269 408,276 420,282 430,288 440,293 446,296 440,296 426,297 410,303 390,309 370,313 352,315 340,312 328,305 320,314 312,318 308,328 294,336 280,344 266,352 254,350 247,341 232,352 220,354 206,356 204,362 205,377 190,379 188,386 174,390 161,387 150,379 140,372 129,372 131,362 136,353 133,349 120,346.5 103,345.5 85,347.5 80,346 60,338.5 46,331.5" fill="#f1a13c" stroke="#f1a13c" stroke-width="1" stroke-linejoin="round"/>
<polygon points="27,324 30,313 34,307 37,301 40,293 48,289 56,286 68,281 74,277 84,271 96,265 104,261 114,259 122,254 130,252 134,253 138,251 146,254 156,256 170,256 184,258 196,257 210,257 222,258 228,260 236,257 244,254 252,251 260,248 266,248 272,249 280,252 290,252 300,251 310,249 318,247 332,249 344,251 352,253 362,254 372,257 380,260 386,263 396,268 408,275 420,281 430,287 440,292 446,295 440,295 426,296 410,302 390,308 370,312 352,314 340,311 328,304 320,313 312,317 308,327 294,335 280,343 266,351 254,349 247,340 232,351 220,353 206,355 204,361 205,376 190,378 188,385 174,389 161,386 150,378 140,371 129,371 131,361 136,352 133,348 120,345.5 103,344.5 85,346.5 80,345 60,337.5 46,330.5" fill="#f7b246" stroke="#f7b246" stroke-width="1" stroke-linejoin="round"/>
<polygon points="27,323 30,312 34,306 37,300 40,292 48,288 56,285 68,280 74,276 84,270 96,264 104,260 114,258 122,253 130,251 134,252 138,250 146,253 156,255 170,255 184,257 196,256 210,256 222,257 228,259 236,256 244,253 252,250 260,247 266,247 272,248 280,251 290,251 300,250 310,248 318,246 332,248 344,250 352,252 362,253 372,256 380,259 386,262 396,267 408,274 420,280 430,286 440,291 446,294 440,294 426,295 410,301 390,307 370,311 352,313 340,310 328,303 320,312 312,316 308,326 294,334 280,342 266,350 254,348 247,339 232,350 220,352 206,354 204,360 205,375 190,377 188,384 174,388 161,385 150,377 140,370 129,370 131,360 136,351 133,347 120,344.5 103,343.5 85,345.5 80,344 60,336.5 46,329.5" fill="#fbc55f" stroke="#fbc55f" stroke-width="1" stroke-linejoin="round"/>
<polygon points="27,322 30,311 34,305 37,299 40,291 48,287 56,284 68,279 74,275 84,269 96,263 104,259 114,257 122,252 130,250 134,251 138,249 146,252 156,254 170,254 184,256 196,255 210,255 222,256 228,258 236,255 244,252 252,249 260,246 266,246 272,247 280,250 290,250 300,249 310,247 318,245 332,247 344,249 352,251 362,252 372,255 380,258 386,261 396,266 408,273 420,279 430,285 440,290 446,293 440,293 426,294 410,300 390,306 370,310 352,312 340,309 328,302 320,311 312,315 308,325 294,333 280,341 266,349 254,347 247,338 232,349 220,351 206,353 204,359 205,374 190,376 188,383 174,387 161,384 150,376 140,369 129,369 131,359 136,350 133,346 120,343.5 103,342.5 85,344.5 80,343 60,335.5 46,328.5" fill="#fdd982" stroke="#fdd982" stroke-width="1" stroke-linejoin="round"/>
<polygon points="27,321 30,310 34,304 37,298 40,290 48,286 56,283 68,278 74,274 84,268 96,262 104,258 114,256 122,251 130,249 134,250 138,248 146,251 156,253 170,253 184,255 196,254 210,254 222,255 228,257 236,254 244,251 252,248 260,245 266,245 272,246 280,249 290,249 300,248 310,246 318,244 332,246 344,248 352,250 362,251 372,254 380,257 386,260 396,265 408,272 420,278 430,284 440,289 446,292 440,292 426,293 410,299 390,305 370,309 352,311 340,308 328,301 320,310 312,314 308,324 294,332 280,340 266,348 254,346 247,337 232,348 220,350 206,352 204,358 205,373 190,375 188,382 174,386 161,383 150,375 140,368 129,368 131,358 136,349 133,345 120,342.5 103,341.5 85,343.5 80,342 60,334.5 46,327.5" fill="#a3ff85" stroke="#d8ffc0" stroke-width="1.2" stroke-linejoin="round"/>
<polygon points="37,298 40,290 48,286 56,283 68,278 74,274 84,268 96,262 104,258 114,256 122,251 130,249 134,250 138,248 146,251 156,253 170,253 184,255 196,254 210,254 222,255 228,257 236,254 244,251 252,248 260,245 266,245 272,246 280,249 290,249 300,248 310,246 318,244 318,283 300,274 290,267 274,261 254,267 242,271 230,273 212,274 200,278 192,284 191,300 196,308 202,314 201,320 196,324 190,332 186,340 184,347 176,352 172,356 180,361 190,357 201,353 204,358 205,373 190,375 188,382 174,386 161,383 150,375 142,369 152,364 160,360 158,354 150,350 140,347 136,349 133,345 120,342.5 103,341.5 103,339 106,334 114,328 120,324 124,318 120,312 108,309 96,308 88,314 88,322 94,330 88,337 85,343.5 80,342 60,334.5 48,328.5 58,322 66,317 56,310 46,305 37,304" fill="#ff0000" stroke="#ff3a2a" stroke-width="0.8" stroke-linejoin="round"/>
<polyline points="74,278 72,286 73,294 68,304 67,310" fill="none" stroke="#ff9088" stroke-width="1.3" stroke-linejoin="round"/>
<polyline points="73,294 82,294 90,300 94,308" fill="none" stroke="#ff9088" stroke-width="1.3" stroke-linejoin="round"/>
<polyline points="100,266 108,278 114,288 120,296" fill="none" stroke="#ff9088" stroke-width="1.3" stroke-linejoin="round"/>
<polyline points="132,250 130,260 134,268 124,274 122,280 132,284 136,290 124,296" fill="none" stroke="#ff9088" stroke-width="1.3" stroke-linejoin="round"/>
<polyline points="134,258 144,267 160,269 180,267 200,265 220,263 232,265 236,270" fill="none" stroke="#ff9088" stroke-width="1.3" stroke-linejoin="round"/>
<polyline points="136,289 152,290 160,296 168,297 174,290 190,288" fill="none" stroke="#ff9088" stroke-width="1.3" stroke-linejoin="round"/>
<polyline points="168,297 168,304 158,310 156,320 152,328 140,332 132,330 130,324 138,320 140,326" fill="none" stroke="#ff9088" stroke-width="1.3" stroke-linejoin="round"/>
<polyline points="120,296 112,304 100,306" fill="none" stroke="#ff9088" stroke-width="1.3" stroke-linejoin="round"/>
<polyline points="152,328 150,338 152,348" fill="none" stroke="#ff9088" stroke-width="1.3" stroke-linejoin="round"/>
<circle cx="120" cy="296" r="2" fill="#ffe8e8"/>
<path d="M381 267.5 L392 270.5 L404 275.5 L408 277.5" fill="none" stroke="#dba560" stroke-width="2.4" stroke-dasharray="7 2"/>
<polygon points="184,238.5 194,236 194,250.5 184,253" fill="url(#isl)" stroke="#fff6e6" stroke-width="1.2" stroke-linejoin="round"/>
<polygon points="208,230 238,222 238,235.5 208,243.5" fill="url(#isl)" stroke="#fff6e6" stroke-width="1.2" stroke-linejoin="round"/>
<polygon points="254,221.5 264,218 264,232.5 254,236" fill="url(#isl)" stroke="#fff6e6" stroke-width="1.2" stroke-linejoin="round"/>
<polyline points="83,166.5 117,166.5 117,272" fill="none" stroke="#505050" stroke-width="1.5"/>
<polyline points="67,226 78.5,226 78.5,283" fill="none" stroke="#505050" stroke-width="1.5"/>
<polyline points="55,274 55,298" fill="none" stroke="#505050" stroke-width="1.5"/>
<polyline points="151,200 151,276" fill="none" stroke="#505050" stroke-width="1.5"/>
<polyline points="209,170 199,170 199,258" fill="none" stroke="#505050" stroke-width="1.5"/>
<polyline points="309.3,202 309.3,258" fill="none" stroke="#505050" stroke-width="1.5"/>
<polyline points="68,325.5 44.5,325.5 44.5,424" fill="none" stroke="#505050" stroke-width="1.5"/>
<polyline points="118.5,338 118.5,435" fill="none" stroke="#505050" stroke-width="1.5"/>
<polyline points="180,379 234.5,379 234.5,431" fill="none" stroke="#505050" stroke-width="1.5"/>
<polyline points="186,320.5 256.5,320.5 256.5,383 322.5,383 322.5,423" fill="none" stroke="#505050" stroke-width="1.5"/>
<polyline points="142,306 382.5,306 382.5,351" fill="none" stroke="#505050" stroke-width="1.5"/>
<text x="14.5" y="512" font-family='"Liberation Sans",sans-serif' font-size="15" font-weight="bold" fill="#2a2a2a" textLength="204.8" lengthAdjust="spacingAndGlyphs">El gobierno confirmó ayer 43</text>
<text x="14.5" y="528.3" font-family='"Liberation Sans",sans-serif' font-size="15" font-weight="bold" fill="#2a2a2a" textLength="247.0" lengthAdjust="spacingAndGlyphs">nuevos casos, por lo que la cifra de</text>
<text x="14.5" y="544.7" font-family='"Liberation Sans",sans-serif' font-size="15" font-weight="bold" fill="#2a2a2a" textLength="231.0" lengthAdjust="spacingAndGlyphs">infectados subió a 562, mientras</text>
<text x="14.5" y="561" font-family='"Liberation Sans",sans-serif' font-size="15" font-weight="bold" fill="#2a2a2a" textLength="219.8" lengthAdjust="spacingAndGlyphs">que los recuperado son 50 y se</text>
<text x="14.5" y="577.4" font-family='"Liberation Sans",sans-serif' font-size="15" font-weight="bold" fill="#2a2a2a" textLength="214.8" lengthAdjust="spacingAndGlyphs">mantienen los fallecidos en 47</text>
<text x="294" y="514.5" font-family='"Liberation Sans",sans-serif' font-size="15" font-weight="bold" fill="#e8262e" textLength="177.5" lengthAdjust="spacingAndGlyphs">El mapa de infectados no</text>
<text x="294" y="531" font-family='"Liberation Sans",sans-serif' font-size="15" font-weight="bold" fill="#e8262e" textLength="154.0" lengthAdjust="spacingAndGlyphs">se actualizó porque el</text>
<text x="294" y="547.5" font-family='"Liberation Sans",sans-serif' font-size="15" font-weight="bold" fill="#e8262e" textLength="182.5" lengthAdjust="spacingAndGlyphs">gobierno no dio a conocer</text>
<text x="294" y="563.8" font-family='"Liberation Sans",sans-serif' font-size="15" font-weight="bold" fill="#e8262e" textLength="145.3" lengthAdjust="spacingAndGlyphs">la distribución de los</text>
<text x="294" y="580" font-family='"Liberation Sans",sans-serif' font-size="15" font-weight="bold" fill="#e8262e" textLength="116.5" lengthAdjust="spacingAndGlyphs">nuevos 43 casos</text>
<circle cx="410.5" cy="195" r="54.5" fill="#f0ff3a" filter="url(#blur2)"/>
<circle cx="410.5" cy="195" r="52.5" fill="#ecff2e"/>
<text x="410" y="205" font-family='"Liberation Sans",sans-serif' font-size="55" font-weight="bold" fill="#e8141a" textLength="90" lengthAdjust="spacingAndGlyphs" text-anchor="middle" stroke="#e8141a" stroke-width="1.2">562</text>
<text x="409.5" y="229" font-family='"Liberation Sans",sans-serif' font-size="29" fill="#c23a14" textLength="75" lengthAdjust="spacingAndGlyphs" text-anchor="middle">casos</text>
<text x="41.5" y="150" font-family='"Liberation Sans",sans-serif' font-size="11" font-weight="bold" fill="#1a1a1a" textLength="39" lengthAdjust="spacingAndGlyphs" stroke="#1a1a1a" stroke-width="0.35">Cortés</text>
<text x="44.5" y="169.5" font-family='"Liberation Sans",sans-serif' font-size="18" font-weight="bold" fill="#1a1a1a" textLength="31" lengthAdjust="spacingAndGlyphs" stroke="#1a1a1a" stroke-width="0.7">370</text>
<text x="45.5" y="187.5" font-family='"Liberation Sans",sans-serif' font-size="16" font-weight="bold" fill="#e2231a" textLength="20" lengthAdjust="spacingAndGlyphs" stroke="#e2231a" stroke-width="0.7">37</text>
<text x="15.5" y="209" font-family='"Liberation Sans",sans-serif' font-size="11" font-weight="bold" fill="#1a1a1a" textLength="72" lengthAdjust="spacingAndGlyphs" stroke="#1a1a1a" stroke-width="0.35">Sta. Bárbara</text>
<text x="44.5" y="227.5" font-family='"Liberation Sans",sans-serif' font-size="18" font-weight="bold" fill="#1a1a1a" textLength="15" lengthAdjust="spacingAndGlyphs" stroke="#1a1a1a" stroke-width="0.7">11</text>
<text x="27.5" y="252.5" font-family='"Liberation Sans",sans-serif' font-size="11" font-weight="bold" fill="#1a1a1a" textLength="36" lengthAdjust="spacingAndGlyphs" stroke="#1a1a1a" stroke-width="0.35">Copán</text>
<text x="40.5" y="274" font-family='"Liberation Sans",sans-serif' font-size="18" font-weight="bold" fill="#1a1a1a" textLength="7" lengthAdjust="spacingAndGlyphs" stroke="#1a1a1a" stroke-width="0.7">1</text>
<text x="137.5" y="155" font-family='"Liberation Sans",sans-serif' font-size="11" font-weight="bold" fill="#1a1a1a" textLength="27" lengthAdjust="spacingAndGlyphs" stroke="#1a1a1a" stroke-width="0.35">Yoro</text>
<text x="145.5" y="175" font-family='"Liberation Sans",sans-serif' font-size="18" font-weight="bold" fill="#1a1a1a" textLength="18" lengthAdjust="spacingAndGlyphs" stroke="#1a1a1a" stroke-width="0.7">13</text>
<text x="148.5" y="193" font-family='"Liberation Sans",sans-serif' font-size="16" font-weight="bold" fill="#e2231a" textLength="10" lengthAdjust="spacingAndGlyphs" stroke="#e2231a" stroke-width="0.7">3</text>
<text x="198.5" y="155" font-family='"Liberation Sans",sans-serif' font-size="11" font-weight="bold" fill="#1a1a1a" textLength="54" lengthAdjust="spacingAndGlyphs" stroke="#1a1a1a" stroke-width="0.35">Atlántida</text>
<text x="212.5" y="174.5" font-family='"Liberation Sans",sans-serif' font-size="18" font-weight="bold" fill="#1a1a1a" textLength="22" lengthAdjust="spacingAndGlyphs" stroke="#1a1a1a" stroke-width="0.7">20</text>
<text x="215.5" y="192.5" font-family='"Liberation Sans",sans-serif' font-size="16" font-weight="bold" fill="#e2231a" textLength="10" lengthAdjust="spacingAndGlyphs" stroke="#e2231a" stroke-width="0.7">3</text>
<text x="288.5" y="159.5" font-family='"Liberation Sans",sans-serif' font-size="11" font-weight="bold" fill="#1a1a1a" textLength="34.5" lengthAdjust="spacingAndGlyphs" stroke="#1a1a1a" stroke-width="0.35">Colón</text>
<text x="294.5" y="177.5" font-family='"Liberation Sans",sans-serif' font-size="18" font-weight="bold" fill="#1a1a1a" textLength="22" lengthAdjust="spacingAndGlyphs" stroke="#1a1a1a" stroke-width="0.7">29</text>
<text x="303.5" y="195.5" font-family='"Liberation Sans",sans-serif' font-size="16" font-weight="bold" fill="#e2231a" textLength="8" lengthAdjust="spacingAndGlyphs" stroke="#e2231a" stroke-width="0.7">1</text>
<text x="18.3" y="438.8" font-family='"Liberation Sans",sans-serif' font-size="11" font-weight="bold" fill="#1a1a1a" textLength="48.4" lengthAdjust="spacingAndGlyphs" stroke="#1a1a1a" stroke-width="0.35">Lempira</text>
<text x="36.5" y="457" font-family='"Liberation Sans",sans-serif' font-size="17" font-weight="bold" fill="#1a1a1a" textLength="10" lengthAdjust="spacingAndGlyphs" stroke="#1a1a1a" stroke-width="0.7">5</text>
<text x="37.0" y="476" font-family='"Liberation Sans",sans-serif' font-size="16" font-weight="bold" fill="#e2231a" textLength="8.0" lengthAdjust="spacingAndGlyphs" stroke="#e2231a" stroke-width="0.7">1</text>
<text x="82.0" y="463" font-family='"Liberation Sans",sans-serif' font-size="11" font-weight="bold" fill="#1a1a1a" textLength="36.5" lengthAdjust="spacingAndGlyphs" stroke="#1a1a1a" stroke-width="0.35">La Paz</text>
<text x="125.5" y="465" font-family='"Liberation Sans",sans-serif' font-size="17" font-weight="bold" fill="#1a1a1a" textLength="10.8" lengthAdjust="spacingAndGlyphs" stroke="#1a1a1a" stroke-width="0.7">2</text>
<text x="205.5" y="451" font-family='"Liberation Sans",sans-serif' font-size="11" font-weight="bold" fill="#1a1a1a" textLength="58.8" lengthAdjust="spacingAndGlyphs" stroke="#1a1a1a" stroke-width="0.35">Choluteca</text>
<text x="230.5" y="469.5" font-family='"Liberation Sans",sans-serif' font-size="17" font-weight="bold" fill="#1a1a1a" textLength="12" lengthAdjust="spacingAndGlyphs" stroke="#1a1a1a" stroke-width="0.7">4</text>
<text x="339.5" y="364" font-family='"Liberation Sans",sans-serif' font-size="11" font-weight="bold" fill="#1a1a1a" textLength="69.8" lengthAdjust="spacingAndGlyphs" stroke="#1a1a1a" stroke-width="0.35">Comayagua</text>
<text x="411.5" y="365.5" font-family='"Liberation Sans",sans-serif' font-size="17" font-weight="bold" fill="#1a1a1a" textLength="11" lengthAdjust="spacingAndGlyphs" stroke="#1a1a1a" stroke-width="0.7">2</text>
<text x="295.5" y="448" font-family='"Liberation Sans",sans-serif' font-size="11" font-weight="bold" fill="#1a1a1a" textLength="56" lengthAdjust="spacingAndGlyphs" stroke="#1a1a1a" stroke-width="0.35">Francisco</text>
<text x="295.5" y="460.5" font-family='"Liberation Sans",sans-serif' font-size="11" font-weight="bold" fill="#1a1a1a" textLength="50.8" lengthAdjust="spacingAndGlyphs" stroke="#1a1a1a" stroke-width="0.35">Morazán</text>
<text x="355.5" y="455" font-family='"Liberation Sans",sans-serif' font-size="19" font-weight="bold" fill="#1a1a1a" textLength="23" lengthAdjust="spacingAndGlyphs" stroke="#1a1a1a" stroke-width="0.7">62</text>
<text x="354.5" y="473" font-family='"Liberation Sans",sans-serif' font-size="16" font-weight="bold" fill="#e2231a" textLength="10.7" lengthAdjust="spacingAndGlyphs" stroke="#e2231a" stroke-width="0.7">2</text>
<text x="1067" y="98" font-family='"Liberation Sans",sans-serif' font-size="14.5" font-weight="bold" fill="#222" textLength="74" lengthAdjust="spacingAndGlyphs">El top tres</text>
<text x="1067" y="114" font-family='"Liberation Sans",sans-serif' font-size="14.5" font-weight="bold" fill="#222" textLength="87" lengthAdjust="spacingAndGlyphs">de los casos</text>
<text x="1067" y="130" font-family='"Liberation Sans",sans-serif' font-size="14.5" font-weight="bold" fill="#222" textLength="67" lengthAdjust="spacingAndGlyphs">positivos</text>
<g id="woman"><path d="M1155.5 126.5 C1147 126.5 1142.5 133 1142 142 C1141.5 152 1140.5 160 1137 166 L1128.5 176 C1126 180 1125.5 184 1127 187.5 L1185 187.5 C1186.5 184 1186 180 1183.5 176 L1175 166 C1171.5 160 1170.5 152 1170 142 C1169.5 133 1165 126.5 1155.5 126.5Z" fill="#000"/><path d="M1144.5 148.5 L1152 146 L1164.5 138.5 L1167.5 149 C1167.5 156 1163.5 164.5 1157 164.5 C1150.5 164.5 1145.5 157 1144.5 148.5Z" fill="#fff"/><path d="M1146.5 171 Q1151 167.5 1156.5 167.5 Q1162 167.5 1166.5 171 Q1164 176.5 1156.5 176.8 Q1149.5 176.5 1146.5 171Z" fill="#fff"/></g>
<text x="1115.5" y="204.8" font-family='"Liberation Sans",sans-serif' font-size="11" font-weight="bold" fill="#111" textLength="82" lengthAdjust="spacingAndGlyphs" stroke="#111" stroke-width="0.5">AMAS DE CASA</text>
<rect x="1114.5" y="208.8" width="83.2" height="21" fill="#000"/>
<text x="1121" y="224.5" font-family='"Liberation Serif",serif' font-size="18.5" font-weight="bold" fill="#fff" textLength="71" lengthAdjust="spacingAndGlyphs">60 casos</text>
<text x="1128" y="251.5" font-family='"Liberation Serif",serif' font-size="21.5" font-weight="bold" fill="#d9262c" textLength="63.5" lengthAdjust="spacingAndGlyphs" stroke="#d9262c" stroke-width="0.5">13.79%</text>
<g id="nurse"><path d="M1080.5 236 C1080 226 1085 220.5 1094.3 220.5 C1103.5 220.5 1108.5 226 1108 236 L1109.5 258 L1112 262.5 C1116 266 1118 272 1118.5 283.5 L1069 283.5 C1069.5 272 1071.5 266 1076 262.5 L1078.5 258 Z" fill="#000"/><path d="M1083.5 232.5 C1083 226 1087 223 1094.3 223 C1101.5 223 1105.5 226 1105 232.5 Z" fill="#fff"/><path d="M1092.8 224.5h3v2h2v3h-2v2h-3v-2h-2v-3h2z" fill="#000"/><path d="M1084.5 246 L1091 244.5 L1099 240.5 L1104 246 C1104 252.5 1100 259.5 1094.5 259.5 C1089 259.5 1084.5 252.5 1084.5 246Z" fill="#fff"/><path d="M1087 263 L1102.5 263 L1094.7 273Z" fill="#fff"/><path d="M1077 262.3 L1086 261.2 M1103.5 261.2 L1112 262.3" stroke="#fff" stroke-width="0.8" fill="none"/></g>
<text x="1056" y="297.2" font-family='"Liberation Sans",sans-serif' font-size="11" font-weight="bold" fill="#111" textLength="74" lengthAdjust="spacingAndGlyphs" stroke="#111" stroke-width="0.5">ENFERMERAS</text>
<rect x="1052" y="301.3" width="83.5" height="21.7" fill="#000"/>
<text x="1059.5" y="317.3" font-family='"Liberation Serif",serif' font-size="18.5" font-weight="bold" fill="#fff" textLength="69" lengthAdjust="spacingAndGlyphs">37 casos</text>
<text x="1073" y="343.5" font-family='"Liberation Serif",serif' font-size="21.5" font-weight="bold" fill="#d9262c" textLength="52.5" lengthAdjust="spacingAndGlyphs" stroke="#d9262c" stroke-width="0.5">8.51%</text>
<g id="doctor"><path d="M1138.5 334 C1137.5 322 1143 316.5 1152.8 316.5 C1162.5 316.5 1168 322 1167 334 C1167.5 338 1166.5 341 1165 342 C1163 347 1160 351 1157.5 352.5 L1162 355.5 L1171 358 C1178 360.5 1181.5 366 1182 383.5 L1123.5 383.5 C1124 366 1127.5 360.5 1134.5 358 L1143.5 355.5 L1148 352.5 C1145.500 351 1142.500 347 1140.500 342 C1139 341 1138 338 1138.5 334Z" fill="#000"/><path d="M1141.800 333 C1145 331.500 1150 329.500 1152.8 327.500 C1155.500 329.500 1160.500 331.500 1163.800 333 C1164 341 1158.500 350.500 1152.8 350.500 C1147 350.500 1141.500 341 1141.800 333Z" fill="#fff"/><path d="M1145.500 353.500 Q1152.800 357.500 1160.200 353.500 L1161 356 Q1152.800 360 1144.700 356Z" fill="#fff"/><path d="M1139.500 358.500 C1134 362 1131.500 367 1132.500 377 M1139.500 358.500 C1143 362 1148.500 366 1149.500 375" stroke="#ddd" stroke-width="1.3" fill="none"/><circle cx="1132.8" cy="378.500" r="1.6" fill="#eee"/><path d="M1166 358.500 C1164 362 1162.500 364 1161.500 366" stroke="#ddd" stroke-width="1.2" fill="none"/><rect x="1161" y="368" width="8" height="6.500" fill="#999"/></g>
<text x="1128" y="396.2" font-family='"Liberation Sans",sans-serif' font-size="11" font-weight="bold" fill="#111" textLength="49.5" lengthAdjust="spacingAndGlyphs" stroke="#111" stroke-width="0.5">MÉDICOS</text>
<rect x="1110.3" y="400.5" width="84" height="21.5" fill="#000"/>
<text x="1118" y="416" font-family='"Liberation Serif",serif' font-size="18.5" font-weight="bold" fill="#fff" textLength="69.5" lengthAdjust="spacingAndGlyphs">26 casos</text>
<text x="1122.5" y="444.6" font-family='"Liberation Serif",serif' font-size="21.5" font-weight="bold" fill="#d9262c" textLength="62" lengthAdjust="spacingAndGlyphs" stroke="#d9262c" stroke-width="0.5">5.98%</text>
<text x="1028.1" y="472.9" font-family='"Liberation Sans",sans-serif' font-size="15" font-weight="bold" fill="#2a2a2a" textLength="135.3" lengthAdjust="spacingAndGlyphs">Expertos aseguran</text>
<text x="1020.1" y="489" font-family='"Liberation Sans",sans-serif' font-size="15" font-weight="bold" fill="#2a2a2a" textLength="150.4" lengthAdjust="spacingAndGlyphs">que las amas de casa</text>
<text x="1029.5" y="505.7" font-family='"Liberation Sans",sans-serif' font-size="15" font-weight="bold" fill="#2a2a2a" textLength="131" lengthAdjust="spacingAndGlyphs">son más afectadas</text>
<text x="1040.9" y="522" font-family='"Liberation Sans",sans-serif' font-size="15" font-weight="bold" fill="#2a2a2a" textLength="109.6" lengthAdjust="spacingAndGlyphs">porque muchas</text>
<text x="1042.4" y="538.6" font-family='"Liberation Sans",sans-serif' font-size="15" font-weight="bold" fill="#2a2a2a" textLength="106.7" lengthAdjust="spacingAndGlyphs">de ellas son las</text>
<text x="1022.4" y="555.5" font-family='"Liberation Sans",sans-serif' font-size="15" font-weight="bold" fill="#2a2a2a" textLength="145.1" lengthAdjust="spacingAndGlyphs">encargadas de hacer</text>
<text x="1017.2" y="572" font-family='"Liberation Sans",sans-serif' font-size="15" font-weight="bold" fill="#2a2a2a" textLength="156.2" lengthAdjust="spacingAndGlyphs">las compras del hogar</text>
</svg>
</body></html>
